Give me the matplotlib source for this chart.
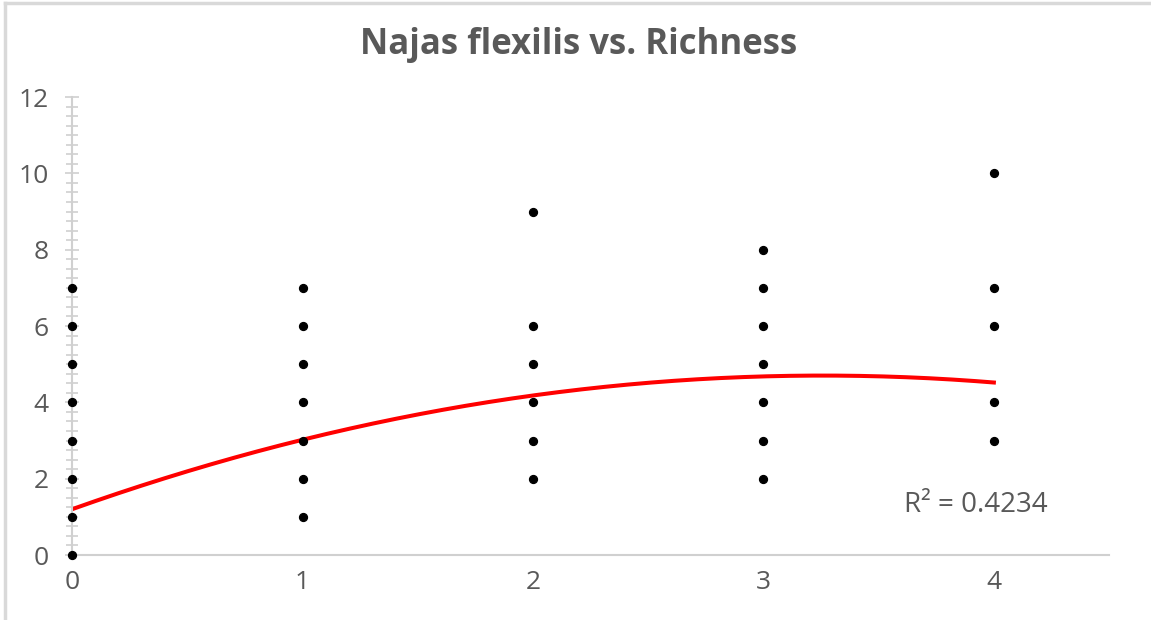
import numpy as np
import matplotlib.pyplot as plt
from matplotlib.ticker import MultipleLocator

# точки (x = Najas flexilis, y = Richness)
x_vals = [0, 0, 0, 0, 0, 0, 0, 0,
          1, 1, 1, 1, 1, 1, 1,
          2, 2, 2, 2, 2, 2,
          3, 3, 3, 3, 3, 3, 3,
          4, 4, 4, 4, 4]
y_vals = [0, 1, 2, 3, 4, 5, 6, 7,
          1, 2, 3, 4, 5, 6, 7,
          2, 3, 4, 5, 6, 9,
          2, 3, 4, 5, 6, 7, 8,
          3, 4, 6, 7, 10]

# полиномиальный тренд (2-й степени)
trend_coef = [-0.33, 2.15, 1.2]
r2_text = "R² = 0.4234"

grey = "#595959"
axis_grey = "#d0d0d0"
plt.rcParams["font.family"] = ["Open Sans", "DejaVu Sans"]

fig = plt.figure(figsize=(11.51, 6.20), dpi=100)
ax = fig.add_axes([0.0626, 0.1048, 0.901, 0.7387])

# рамка области диаграммы
fig.add_artist(plt.Line2D([0.004, 0.004], [0, 0.995], color="#d9d9d9", lw=2.5))
fig.add_artist(plt.Line2D([0.004, 1], [0.995, 0.995], color="#d9d9d9", lw=2.5))

ax.scatter(x_vals, y_vals, s=32, color="black", zorder=3, clip_on=False)

xt = np.linspace(min(x_vals), max(x_vals), 200)
ax.plot(xt, np.polyval(trend_coef, xt), color="#ff0000", lw=2.9, zorder=2)

ax.set_xlim(0, 4.5)
ax.set_ylim(0, 12)
ax.xaxis.set_major_locator(MultipleLocator(1))
ax.yaxis.set_major_locator(MultipleLocator(2))
ax.yaxis.set_minor_locator(MultipleLocator(0.25))

for s in ["top", "right"]:
    ax.spines[s].set_visible(False)
ax.spines["bottom"].set_color(axis_grey)
ax.spines["left"].set_color(axis_grey)
ax.spines["bottom"].set_linewidth(1.5)
ax.spines["left"].set_linewidth(1.5)

ax.tick_params(axis="x", length=0, pad=11, labelsize=19, labelcolor=grey)
ax.tick_params(axis="y", which="major", direction="inout", length=10, width=1.2,
               color=axis_grey, pad=12, labelsize=19, labelcolor=grey)
ax.tick_params(axis="y", which="minor", direction="inout", length=9, width=1.2,
               color=axis_grey)

ax.text(3.61, 1.3, r2_text, fontsize=20, color=grey, va="center", ha="left")

fig.text(0.503, 0.927, "Najas flexilis vs. Richness", ha="center", va="center",
         fontsize=25, fontweight="bold", color=grey)

fig.savefig("out.png", dpi=100)
plt.close()
